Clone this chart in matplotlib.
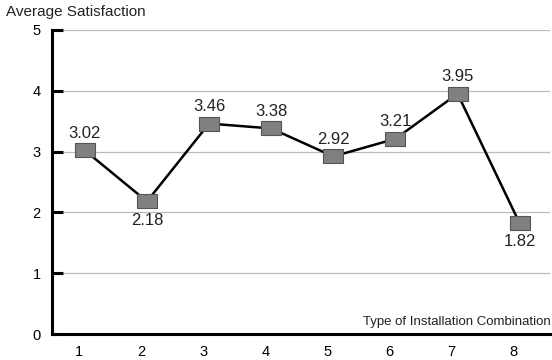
import matplotlib
matplotlib.use("Agg")
import matplotlib.pyplot as plt
import matplotlib.transforms as mtransforms
import numpy as np

categories = [1, 2, 3, 4, 5, 6, 7, 8]
values = [3.02, 2.18, 3.46, 3.38, 2.92, 3.21, 3.95, 1.82]
label_above = [True, False, True, True, True, True, True, False]
yticks = [0, 1, 2, 3, 4, 5]

plt.rcParams['font.family'] = ['Liberation Sans', 'DejaVu Sans']

fig = plt.figure(figsize=(5.52, 3.6), dpi=100)
ax = fig.add_axes([0.094, 0.072, 0.906, 0.845])
ax.set_xlim(0.47, 8.52)
ax.set_ylim(0, 5)

for y in yticks[1:]:
    ax.axhline(y, xmin=0.025, xmax=0.995, color='#bbbbbb', lw=0.9, zorder=1)

rect = [(-1.45, -1), (1.45, -1), (1.45, 1), (-1.45, 1), (-1.45, -1)]
ax.plot(categories, values, color='black', lw=1.8, zorder=2,
        marker=rect, markersize=15, markerfacecolor='#808080',
        markeredgecolor='#555555', markeredgewidth=0.8)

for x, v, up in zip(categories, values, label_above):
    ax.annotate(f"{v:.2f}", (x, v), xytext=(0, 7 if up else -8),
                textcoords='offset points', ha='center',
                va='bottom' if up else 'top', fontsize=12, color='#222222')

for s in ['top', 'right']:
    ax.spines[s].set_visible(False)
ax.spines['left'].set_linewidth(2.2)
ax.spines['bottom'].set_linewidth(2.2)

ax.set_yticks(yticks)
ax.set_yticklabels([str(t) for t in yticks], fontsize=10.5)
ax.tick_params(axis='y', direction='in', length=8, width=2.2, pad=8)
ax.set_xticks(categories)
ax.set_xticklabels([str(c) for c in categories], fontsize=10.5)
ax.tick_params(axis='x', length=0, pad=8)
off = mtransforms.ScaledTranslation(-6/100, 0, fig.dpi_scale_trans)
for lab in ax.get_xticklabels():
    lab.set_transform(lab.get_transform() + off)

fig.text(0.997, 1 - 328/360, "Type of Installation Combination",
         ha='right', va='bottom', fontsize=9.5, color='#222222')
fig.text(0.01, 0.985, "Average Satisfaction", ha='left', va='top',
         fontsize=11, color='#222222')

fig.savefig("out.png", dpi=100)
